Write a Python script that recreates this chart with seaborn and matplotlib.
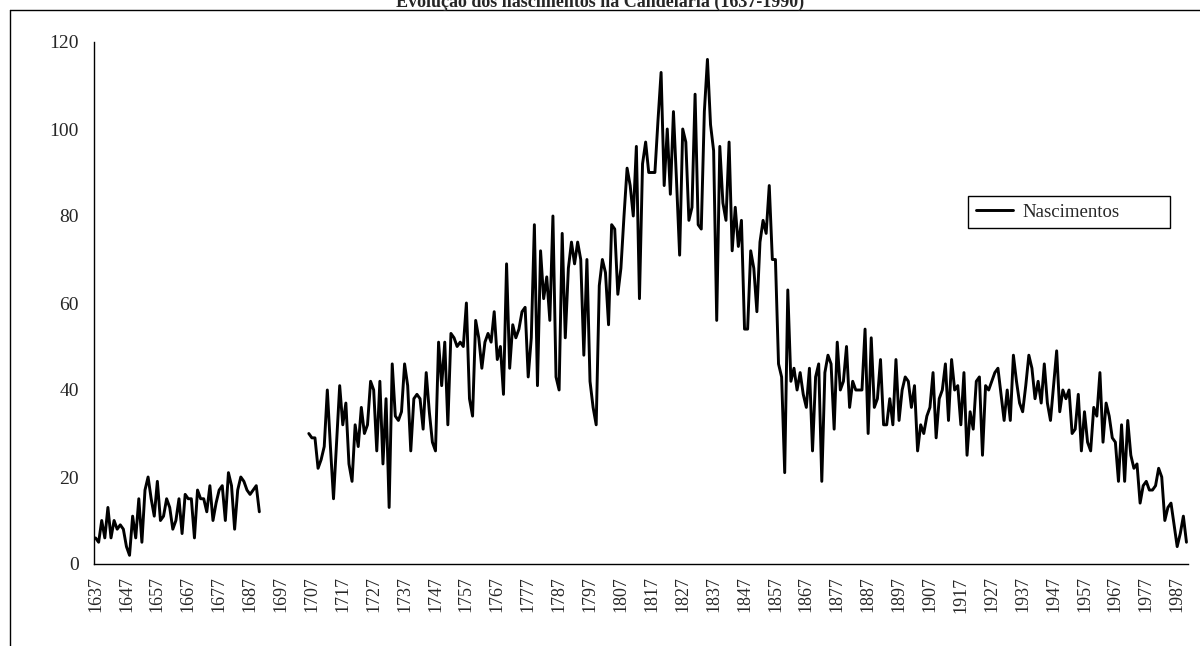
import numpy as np
import pandas as pd
import seaborn as sns
import matplotlib.pyplot as plt
from matplotlib.lines import Line2D

# births per year
births_1637_1690 = [6, 5, 10, 6, 13, 6, 10, 8, 9, 8,
                    4, 2, 11, 6, 15, 5, 17, 20, 15, 11,
                    19, 10, 11, 15, 13, 8, 10, 15, 7, 16,
                    15, 15, 6, 17, 15, 15, 12, 18, 10, 14,
                    17, 18, 10, 21, 18, 8, 17, 20, 19, 17,
                    16, 17, 18, 12]
births_1706_1750 = [30, 29, 29, 22, 24, 27, 40, 27, 15, 28,
                    41, 32, 37, 23, 19, 32, 27, 36, 30, 32,
                    42, 40, 26, 42, 23, 38, 13, 46, 34, 33,
                    35, 46, 41, 26, 38, 39, 38, 31, 44, 35,
                    28, 26, 51, 41, 51]
births_1751_1800 = [32, 53, 52, 50, 51, 50, 60, 38, 34, 56,
                    52, 45, 51, 53, 51, 58, 47, 50, 39, 69,
                    45, 55, 52, 54, 58, 59, 43, 52, 78, 41,
                    72, 61, 66, 56, 80, 43, 40, 76, 52, 68,
                    74, 69, 74, 70, 48, 70, 42, 36, 32, 64]
births_1801_1850 = [70, 67, 55, 78, 77, 62, 68, 80, 91, 87,
                    80, 96, 61, 92, 97, 90, 90, 90, 102, 113,
                    87, 100, 85, 104, 88, 71, 100, 97, 79, 82,
                    108, 78, 77, 104, 116, 101, 95, 56, 96, 83,
                    79, 97, 72, 82, 73, 79, 54, 54, 72, 68]
births_1851_1900 = [58, 74, 79, 76, 87, 70, 70, 46, 43, 21,
                    63, 42, 45, 40, 44, 39, 36, 45, 26, 43,
                    46, 19, 44, 48, 46, 31, 51, 40, 42, 50,
                    36, 42, 40, 40, 40, 54, 30, 52, 36, 38,
                    47, 32, 32, 38, 32, 47, 33, 40, 43, 42]
births_1901_1950 = [36, 41, 26, 32, 30, 34, 36, 44, 29, 38,
                    40, 46, 33, 47, 40, 41, 32, 44, 25, 35,
                    31, 42, 43, 25, 41, 40, 42, 44, 45, 39,
                    33, 40, 33, 48, 42, 37, 35, 41, 48, 45,
                    38, 42, 37, 46, 37, 33, 41, 49, 35, 40]
births_1951_1990 = [38, 40, 30, 31, 39, 26, 35, 28, 26, 36,
                    34, 44, 28, 37, 34, 29, 28, 19, 32, 19,
                    33, 25, 22, 23, 14, 18, 19, 17, 17, 18,
                    22, 20, 10, 13, 14, 9, 4, 7, 11, 5]

first_year, gap_start, gap_end, last_year = 1637, 1691, 1705, 1990
tick_labels = [str(y) for y in range(1637, 1988, 10)]

years = list(range(first_year, gap_start)) + list(range(gap_end + 1, last_year + 1))
values = (births_1637_1690 + births_1706_1750 + births_1751_1800 + births_1801_1850
          + births_1851_1900 + births_1901_1950 + births_1951_1990)
segment = [0 if y < gap_start else 1 for y in years]
df = pd.DataFrame({"ano": years, "nascimentos": values, "seg": segment})

sns.set_style("white")
plt.rcParams["font.family"] = ["Liberation Serif", "DejaVu Serif"]

fig = plt.figure(figsize=(12, 6.46), dpi=100)
ax = fig.add_axes([94 / 1200, 1 - 564 / 646, (1188 - 94) / 1200, (564 - 42) / 646])

sns.lineplot(data=df, x="ano", y="nascimentos", units="seg", estimator=None,
             color="black", linewidth=2.1, legend=False, ax=ax)

ax.set_xlim(first_year - 0.5, last_year + 0.5)
ax.set_ylim(0, 120)
ax.set_yticks(range(0, 121, 20))
ax.set_xticks([int(t) for t in tick_labels])
ax.set_xticklabels(tick_labels, rotation=90, fontsize=13)
ax.set_xticks([int(t) - 0.5 for t in tick_labels], minor=True)
ax.tick_params(axis="x", which="major", length=0, pad=9)
ax.tick_params(axis="x", which="minor", length=6, width=1, color="#808080", direction="out")
ax.tick_params(axis="y", length=6, width=1, color="#808080", direction="out", labelsize=14, pad=5)
ax.set_xlabel("")
ax.set_ylabel("")

for side in ["top", "right"]:
    ax.spines[side].set_visible(False)
for side in ["left", "bottom"]:
    ax.spines[side].set_color("black")
    ax.spines[side].set_linewidth(1)

leg = ax.legend([Line2D([], [], color="black", linewidth=2.1)], ["Nascimentos"],
                loc="upper left", bbox_to_anchor=(0.799, 0.636, 0.1845, 0.069),
                mode="expand", fancybox=False, edgecolor="black", fontsize=13.5,
                handlelength=2.0, handletextpad=0.5, borderaxespad=0, framealpha=1)
leg.get_frame().set_linewidth(1)

fig.text(0.5, 1 - 7 / 646, "Evolução dos nascimentos na Candelária (1637-1990)",
         ha="center", va="baseline", fontsize=13, fontweight="bold")

# chart area border
fig.add_artist(Line2D([10 / 1200, 10 / 1200], [0, 1 - 10 / 646], color="black", linewidth=1))
fig.add_artist(Line2D([10 / 1200, 1], [1 - 10 / 646, 1 - 10 / 646], color="black", linewidth=1))

fig.savefig("out.png", dpi=100, facecolor="white")
